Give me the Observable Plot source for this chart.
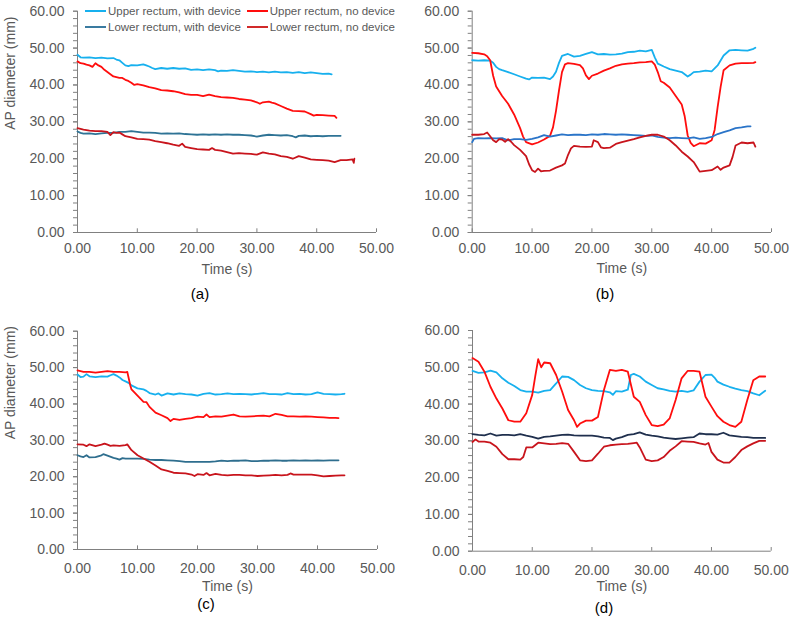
<!DOCTYPE html>
<html>
<head>
<meta charset="utf-8">
<script src="https://cdn.jsdelivr.net/npm/d3@7"></script>
<script src="https://cdn.jsdelivr.net/npm/@observablehq/plot@0.6"></script>
<style>
  html, body { margin: 0; padding: 0; background: #fff; }
  #fig { position: relative; width: 795px; height: 619px; font-family: "Liberation Sans", Arial, sans-serif; overflow: hidden; }
  .panel { position: absolute; }
  .cap { position: absolute; font-size: 15px; color: #000; transform: translate(-50%, -50%); white-space: nowrap; }
  .legend-item { position: absolute; display: flex; align-items: center; font-size: 11.5px; color: #595959; transform: translateY(-50%); white-space: nowrap; }
  .legend-item .sw { display: inline-block; width: 21px; height: 2px; margin-right: 2px; }
</style>
</head>
<body>
<div id="fig"></div>
<script>
// Series labels and colours
const seriesNames = ["Upper rectum, with device", "Upper rectum, no device", "Lower rectum, with device", "Lower rectum, no device"];
const upperWithColor = "#17b0ee";
const upperNoColor = "#ff0d0d";
const lowerNoColor = "#c8141c";
const lowerWithColors = {a: "#2e7395", b: "#2a74c8", c: "#2e6e8e", d: "#1f2f4d"};
const legendColors = [upperWithColor, upperNoColor, "#3a7ba0", "#d12a2a"];

// Axis ticks
const yMajorTicks = [0, 10, 20, 30, 40, 50, 60];
const yMinorTicks = d3.range(0, 61, 2);
const xTicks = [0, 10, 20, 30, 40, 50];
const captions = ["(a)", "(b)", "(c)", "(d)"];

// AP diameter (mm) against time (s): [time, diameter]
const aUpperWith = [[0,48.2],[0.5,47.5],[1,47.4],[2,47.5],[3,47.3],[4,47.4],[5,47.2],[6,47.3],[6.5,46.9],[7,46.7],[7.5,46.0],[8,45.3],[8.5,45.1],[9,45.4],[10,45.3],[11,45.6],[11.5,45.3],[12,45.0],[12.5,44.6],[13,44.3],[14,44.6],[15,44.4],[16,44.6],[17,44.4],[18,44.5],[19,44.1],[20,44.2],[21,44.0],[22,44.2],[23,44.0],[23.5,43.7],[24,43.9],[25,43.8],[26,44.0],[27,43.8],[28,43.6],[29,43.7],[30,43.5],[31,43.6],[32,43.4],[33,43.6],[34,43.4],[35,43.5],[36,43.3],[37,43.5],[38,43.2],[39,43.4],[40,43.2],[41,43.0],[42,43.1],[42.5,42.9]];
const aUpperNo = [[0,46.4],[0.5,45.9],[1,45.8],[1.5,45.5],[2,45.3],[2.5,44.9],[3,45.9],[3.5,45.3],[4,44.9],[4.5,44.1],[5,43.5],[5.5,42.9],[6,42.3],[7,41.9],[7.5,41.9],[8,41.4],[8.5,41.1],[9,40.6],[9.5,40.0],[10,40.2],[11,39.9],[12,39.4],[13,39.1],[14,38.6],[15,38.5],[16,38.3],[17,38.0],[18,37.5],[19,37.3],[20,37.3],[21,37.0],[22,37.4],[23,37.0],[24,36.7],[25,36.6],[26,36.5],[27,36.2],[28,36.0],[29,35.8],[30,35.3],[30.5,34.9],[31,35.3],[32,35.5],[32.5,35.2],[33,35.0],[34,34.3],[35,33.6],[36,33.0],[37,32.9],[38,32.8],[39,32.1],[39.5,31.7],[40,31.9],[41,31.8],[42,31.7],[43,31.6],[43.3,31.1]];
const aLowerWith = [[0,27.4],[0.5,27.0],[1,26.8],[2,26.9],[3,26.7],[4,26.9],[5,27.0],[6,27.0],[7,27.3],[8,27.3],[9,27.5],[10,27.3],[11,27.1],[12,27.1],[13,27.0],[14,26.8],[15,26.9],[16,26.8],[17,26.9],[18,26.7],[19,26.6],[20,26.5],[21,26.6],[22,26.5],[23,26.6],[24,26.5],[25,26.6],[26,26.5],[27,26.5],[28,26.4],[29,26.3],[30,26.0],[31,26.3],[32,26.5],[33,26.4],[34,26.3],[35,26.4],[36,26.1],[36.5,25.8],[37,26.2],[38,26.3],[39,26.1],[40,26.2],[41,26.1],[42,26.2],[43,26.2],[44,26.2]];
const aLowerNo = [[0,28.3],[0.5,28.1],[1,27.9],[2,27.6],[3,27.5],[4,27.5],[5,27.3],[5.5,26.4],[6,27.2],[6.5,27.0],[7,27.1],[7.5,26.6],[8,26.1],[9,25.8],[10,25.4],[11,25.3],[12,25.2],[13,24.8],[14,24.5],[15,24.2],[16,23.8],[17,23.5],[17.5,24.1],[18,23.2],[19,22.9],[20,22.6],[21,22.5],[22,22.4],[22.5,22.9],[23,22.4],[24,22.2],[25,21.8],[26,21.4],[27,21.5],[28,21.4],[29,21.3],[30,21.1],[31,21.7],[32,21.4],[33,21.2],[34,20.7],[35,20.5],[36,20.0],[37,20.7],[38,20.3],[39,19.8],[40,19.7],[41,19.6],[42,19.5],[43,19.1],[44,19.6],[45,19.6],[46,19.8],[46.2,18.9],[46.3,20.0]];

const bUpperWith = [[0,46.7],[1,46.6],[2,46.7],[3,46.6],[3.5,46.0],[4,44.9],[4.5,44.3],[5,44.0],[6,43.5],[7,42.9],[8,42.3],[9,41.7],[9.5,41.5],[10,42.0],[11,41.9],[12,42.0],[13,41.6],[13.5,42.3],[14,43.6],[14.5,46.0],[15,47.9],[16,48.4],[17,47.7],[18,47.9],[19,48.4],[20,48.9],[21,48.3],[22,48.4],[23,48.2],[24,48.3],[25,48.5],[26,48.9],[27,49.0],[28,49.3],[29,49.1],[30,49.5],[30.5,47.5],[31,45.8],[32,45.0],[33,44.3],[34,43.9],[35,43.5],[36,42.3],[36.5,42.8],[37,43.5],[38,43.6],[39,43.9],[40,43.7],[41,45.3],[42,48.0],[43,49.4],[44,49.5],[45,49.4],[46,49.3],[47,49.8],[47.3,50.1]];
const bUpperNo = [[0,48.7],[1,48.6],[2,48.3],[2.5,47.8],[3,46.7],[3.5,42.5],[4,39.6],[5,37.0],[6,34.9],[7,32.0],[8,28.3],[8.5,26.0],[9,24.5],[10,23.9],[11,24.4],[12,25.2],[13,26.2],[13.5,28.5],[14,33.0],[14.5,38.5],[15,43.5],[15.5,45.6],[16,45.9],[17,45.7],[18,45.4],[18.5,44.5],[19,42.6],[19.5,41.6],[20,42.5],[21,43.1],[22,43.9],[23,44.5],[24,45.2],[25,45.6],[26,45.8],[27,45.9],[28,46.1],[29,46.2],[30,46.4],[30.5,45.5],[31,43.5],[31.5,41.0],[32,40.6],[33,39.3],[34,37.0],[35,34.7],[35.5,31.5],[36,26.3],[36.5,24.3],[37,23.4],[38,24.2],[39,24.1],[40,25.0],[40.5,27.8],[41,34.0],[41.5,39.5],[42,44.0],[43,45.3],[44,45.8],[45,45.9],[46,45.9],[47,46.0],[47.3,46.2]];
const bLowerWith = [[0,24.5],[0.3,25.4],[1,25.6],[2,25.5],[3,25.6],[4,25.5],[5,25.6],[6,25.0],[7,25.3],[8,25.3],[9,25.1],[10,25.4],[11,25.8],[12,26.4],[13,26.0],[14,26.3],[15,26.6],[16,26.4],[17,26.5],[18,26.5],[19,26.4],[20,26.6],[21,26.5],[22,26.7],[23,26.6],[24,26.5],[25,26.6],[26,26.5],[27,26.4],[28,26.3],[29,26.2],[30,26.3],[31,25.9],[32,25.7],[33,25.6],[34,25.7],[35,25.6],[36,25.5],[37,25.8],[38,25.4],[39,25.6],[40,25.9],[41,26.7],[42,27.2],[43,27.7],[44,28.3],[45,28.5],[46,28.8],[46.5,28.8]];
const bLowerNo = [[0,26.5],[1,26.5],[2,26.7],[2.5,27.1],[3,26.1],[3.5,25.0],[4,24.5],[4.5,25.3],[5,25.2],[5.5,24.6],[6,25.3],[6.5,24.6],[7,23.7],[8,22.4],[9,20.7],[9.5,18.5],[10,16.9],[10.5,16.4],[11,17.3],[11.5,16.6],[12,16.7],[13,16.8],[14,17.6],[15,18.2],[15.5,18.7],[16,21.0],[16.5,22.8],[17,23.5],[18,23.3],[19,23.2],[20,23.3],[20.3,25.0],[21,24.5],[21.5,23.1],[22,22.9],[23,23.0],[24,24.0],[25,24.5],[26,24.9],[27,25.3],[28,25.8],[29,26.2],[30,26.5],[31,26.5],[32,26.0],[33,25.0],[34,23.6],[35,21.9],[36,20.6],[37,19.1],[37.5,17.8],[38,16.5],[39,16.7],[40,16.9],[41,17.9],[41.5,17.0],[42,17.6],[43,18.2],[43.5,20.5],[44,23.6],[45,24.4],[46,24.2],[47,24.4],[47.3,23.3]];

const cUpperWith = [[0,48.1],[0.5,47.4],[1,47.5],[1.5,48.2],[2,47.6],[3,47.4],[4,47.6],[5,47.5],[5.5,47.9],[6,48.2],[6.5,47.8],[7,47.3],[7.5,46.6],[8,46.2],[8.5,45.8],[9,45.1],[10,44.3],[11,44.0],[11.5,43.6],[12,43.0],[13,42.6],[13.5,42.9],[14,42.3],[15,42.9],[16,42.6],[17,42.9],[18,42.7],[19,42.6],[20,42.3],[21,42.8],[22,43.0],[23,42.6],[24,42.7],[25,42.9],[26,42.7],[27,42.8],[28,42.7],[29,42.6],[30,42.8],[31,43.0],[32,42.7],[33,42.7],[34,42.6],[35,43.0],[36,42.7],[37,42.8],[38,42.6],[39,42.7],[40,43.2],[41,42.8],[42,42.7],[43,42.6],[44,42.7],[44.5,42.8]];
const cUpperNo = [[0,49.2],[1,48.8],[2,48.8],[3,48.6],[4,48.8],[5,49.0],[6,48.8],[7,48.8],[8,48.7],[8.3,48.8],[8.8,45.1],[9,44.0],[10,42.3],[11,40.6],[11.5,40.5],[12,39.2],[13,37.6],[14,36.9],[15,36.1],[15.5,35.3],[16,35.9],[17,35.6],[18,35.9],[19,36.1],[20,36.5],[21,36.4],[21.5,37.1],[22,36.4],[23,36.6],[24,36.5],[25,36.8],[26,37.1],[27,36.6],[28,36.5],[29,36.6],[30,36.7],[31,36.8],[32,36.6],[33,37.3],[34,37.0],[35,36.6],[36,36.6],[37,36.5],[38,36.6],[39,36.5],[40,36.4],[41,36.3],[42,36.2],[43,36.2],[43.5,36.1]];
const cLowerWith = [[0,25.9],[0.5,25.6],[1,25.4],[1.5,25.9],[2,25.3],[3,25.4],[4,25.9],[4.3,26.2],[5,25.8],[6,25.2],[6.5,25.0],[7,24.7],[7.5,25.1],[8,25.0],[9,25.0],[10,25.0],[11,24.9],[12,24.7],[13,24.6],[14,24.6],[15,24.5],[16,24.4],[17,24.3],[18,24.1],[19,24.1],[20,24.1],[21,24.1],[22,24.1],[23,24.2],[24,24.4],[25,24.3],[26,24.4],[27,24.4],[28,24.5],[29,24.3],[30,24.3],[31,24.4],[32,24.4],[33,24.5],[34,24.4],[35,24.4],[36,24.5],[37,24.4],[38,24.5],[39,24.4],[40,24.5],[41,24.4],[42,24.5],[43,24.5],[43.5,24.5]];
const cLowerNo = [[0,28.9],[1,28.8],[1.5,28.4],[2,28.9],[3,28.4],[4,28.8],[4.5,29.1],[5,28.8],[5.5,28.5],[6,28.6],[7,28.5],[8,28.7],[8.3,28.9],[9,27.3],[10,25.9],[11,25.0],[12,24.1],[13,23.1],[14,22.0],[15,21.6],[16,21.1],[17,21.0],[18,20.9],[19,20.6],[19.5,20.2],[20,20.7],[21,20.5],[21.5,21.0],[22,20.4],[23,20.8],[24,20.5],[25,20.4],[26,20.5],[27,20.5],[28,20.4],[29,20.4],[30,20.2],[31,20.3],[32,20.4],[33,20.5],[34,20.4],[35,20.5],[35.5,20.9],[36,20.6],[37,20.6],[38,20.6],[39,20.6],[40,20.4],[41,20.1],[42,20.2],[43,20.3],[44,20.4],[44.5,20.4]];

const dUpperWith = [[0,49.0],[1,48.5],[2,48.6],[3,49.1],[4,48.6],[5,47.0],[6,45.8],[7,44.9],[8,43.8],[9,43.4],[10,43.4],[11,43.1],[12,43.6],[13,43.8],[14,45.6],[15,47.5],[16,47.4],[17,46.5],[18,45.2],[19,44.3],[20,43.8],[21,43.6],[22,43.5],[23,43.2],[23.5,42.5],[24,43.5],[25,43.4],[26,43.9],[26.5,47.9],[27,48.2],[28,47.5],[29,46.1],[30,45.2],[31,44.3],[32,44.0],[33,43.6],[34,43.4],[35,43.6],[36,43.3],[37,43.7],[38,46.1],[39,47.9],[40,48.0],[40.5,47.2],[41,46.1],[42,45.3],[43,44.7],[44,44.2],[45,43.8],[46,43.5],[47,42.9],[48,42.4],[49,43.6]];
const dUpperNo = [[0,52.5],[1,51.5],[2,48.8],[3,44.7],[4,41.5],[5,38.8],[6,35.6],[7,35.2],[8,35.2],[9,37.5],[10,42.5],[10.5,47.5],[11,52.2],[11.5,50.0],[12,51.3],[13,51.1],[14,47.9],[15,43.4],[16,38.4],[17,35.6],[17.5,33.8],[18,34.7],[19,35.5],[20,35.5],[21,36.5],[22,43.8],[23,49.3],[24,49.0],[25,49.3],[26,48.8],[27,42.0],[28,40.6],[29,37.0],[30,34.3],[31,34.0],[32,34.4],[33,36.1],[34,41.1],[35,47.0],[36,49.0],[37,49.0],[38,48.8],[39,42.0],[40,39.3],[41,36.7],[42,35.2],[43,34.3],[44,33.8],[45,35.2],[46,41.1],[47,46.5],[48,47.5],[49,47.5]];
const dLowerWith = [[0,31.8],[1,31.6],[2,31.5],[3,32.0],[4,31.4],[5,31.6],[6,31.6],[7,31.5],[8,31.8],[9,31.4],[10,31.1],[11,30.6],[12,31.1],[13,31.2],[14,31.4],[15,31.6],[16,31.7],[17,31.5],[18,31.4],[19,31.4],[20,31.4],[21,31.2],[22,30.9],[23,30.8],[23.5,30.2],[24,30.6],[25,31.0],[26,31.6],[27,31.8],[28,32.3],[29,31.7],[30,31.4],[31,31.2],[32,30.9],[33,30.7],[34,30.5],[35,30.7],[36,30.9],[37,31.0],[38,32.0],[39,31.8],[40,31.8],[41,31.7],[42,32.2],[43,31.5],[44,31.3],[45,31.1],[46,31.0],[47,30.8],[48,30.8],[49,30.8]];
const dLowerNo = [[0,29.7],[0.5,30.4],[1,29.8],[2,29.8],[3,29.5],[4,28.4],[5,26.4],[6,25.0],[7,25.0],[8,24.9],[8.5,25.6],[9,28.2],[10,28.2],[11,29.5],[12,29.3],[13,29.1],[14,29.2],[15,29.4],[16,29.2],[17,27.0],[18,24.7],[19,24.5],[20,24.7],[21,26.5],[22,28.4],[23,28.8],[24,29.0],[25,29.1],[26,29.2],[27,29.4],[27.5,29.5],[28,28.2],[29,24.9],[30,24.5],[31,24.7],[32,25.6],[33,27.3],[34,28.5],[35,29.9],[36,29.8],[37,29.7],[38,29.3],[39,29.0],[39.5,29.4],[40,27.0],[41,24.9],[42,24.1],[43,24.1],[44,25.6],[45,27.5],[46,28.5],[47,29.3],[48,30.0],[49,30.0]];

const axisColor = "#808080";
const textColor = "#595959";
const fig = document.getElementById("fig");

function drawPanel(cfg) {
  const lines = [
    [cfg.upperWith, upperWithColor],
    [cfg.upperNo, upperNoColor],
    [cfg.lowerWith, cfg.lowerWithColor],
    [cfg.lowerNo, lowerNoColor]
  ];
  const marks = [
    Plot.axisY(yMinorTicks, {tickSize: 4, tickFormat: () => "", stroke: axisColor, label: null}),
    Plot.axisY(yMajorTicks, {tickSize: 4, tickPadding: 9, tickFormat: d => d.toFixed(2), stroke: axisColor, fill: textColor, fontSize: 14, label: null}),
    Plot.axisX(xTicks, {tickSize: 0, tickPadding: cfg.xPad, tickFormat: d => d.toFixed(2), fill: textColor, fontSize: 14, label: null}),
    Plot.ruleX(xTicks, {y1: 0, y2: 1, stroke: axisColor}),
    Plot.ruleX([0], {y1: 0, y2: 60, stroke: axisColor}),
    Plot.ruleY([0], {x1: 0, x2: 50, stroke: axisColor}),
    Plot.text(["Time (s)"], {frameAnchor: "bottom", dy: cfg.xLabelDy, fontSize: 14, fill: textColor})
  ];
  if (cfg.yLabel) {
    marks.push(Plot.text(["AP diameter (mm)"], {frameAnchor: "left", dx: -67, dy: cfg.yLabelDy, rotate: -90, fontSize: 14, fill: textColor}));
  }
  for (const [data, color] of lines) {
    marks.push(Plot.line(data, {x: d => d[0], y: d => d[1], stroke: color, strokeWidth: 1.8}));
  }
  const chart = Plot.plot({
    width: 397,
    height: 282,
    marginLeft: cfg.ml,
    marginRight: cfg.mr,
    marginTop: cfg.mt,
    marginBottom: cfg.mb,
    x: {domain: [0, 50]},
    y: {domain: [0, 60]},
    style: {fontFamily: "'Liberation Sans', Arial, sans-serif", fontSize: "14px", color: textColor, background: "transparent", overflow: "visible"},
    marks
  });
  const holder = document.createElement("div");
  holder.className = "panel";
  holder.style.left = cfg.left + "px";
  holder.style.top = cfg.top + "px";
  holder.appendChild(chart);
  fig.appendChild(holder);

  const cap = document.createElement("div");
  cap.className = "cap";
  cap.textContent = cfg.caption;
  cap.style.left = cfg.capX + "px";
  cap.style.top = cfg.capY + "px";
  fig.appendChild(cap);
}

drawPanel({upperWith: aUpperWith, upperNo: aUpperNo, lowerWith: aLowerWith, lowerNo: aLowerNo, lowerWithColor: lowerWithColors.a,
  left: 0, top: 0, ml: 77, mr: 21, mt: 10.7, mb: 50, xPad: 11, xLabelDy: 41, yLabel: true, yLabelDy: 8, caption: captions[0], capX: 200, capY: 293});
drawPanel({upperWith: bUpperWith, upperNo: bUpperNo, lowerWith: bLowerWith, lowerNo: bLowerNo, lowerWithColor: lowerWithColors.b,
  left: 395, top: 0, ml: 76.7, mr: 21, mt: 10.7, mb: 50, xPad: 11, xLabelDy: 40.5, yLabel: false, caption: captions[1], capX: 605, capY: 293});
drawPanel({upperWith: cUpperWith, upperNo: cUpperNo, lowerWith: cLowerWith, lowerNo: cLowerNo, lowerWithColor: lowerWithColors.c,
  left: 0, top: 320, ml: 77, mr: 20, mt: 10.7, mb: 53, xPad: 14, xLabelDy: 41, yLabel: true, yLabelDy: -1, caption: captions[2], capX: 206, capY: 603});
drawPanel({upperWith: dUpperWith, upperNo: dUpperNo, lowerWith: dLowerWith, lowerNo: dLowerNo, lowerWithColor: lowerWithColors.d,
  left: 395, top: 320, ml: 77, mr: 21.3, mt: 10, mb: 51.3, xPad: 13.6, xLabelDy: 40, yLabel: false, caption: captions[3], capX: 604, capY: 607});

// Legend over the first panel, two columns by two rows
const legendPos = [[85, 11], [246.7, 11], [85, 26.7], [246.7, 26.7]];
seriesNames.forEach((name, i) => {
  const item = document.createElement("div");
  item.className = "legend-item";
  item.style.left = legendPos[i][0] + "px";
  item.style.top = legendPos[i][1] + "px";
  const sw = document.createElement("span");
  sw.className = "sw";
  sw.style.background = legendColors[i];
  const label = document.createElement("span");
  label.textContent = name;
  item.appendChild(sw);
  item.appendChild(label);
  fig.appendChild(item);
});
</script>
</body>
</html>
